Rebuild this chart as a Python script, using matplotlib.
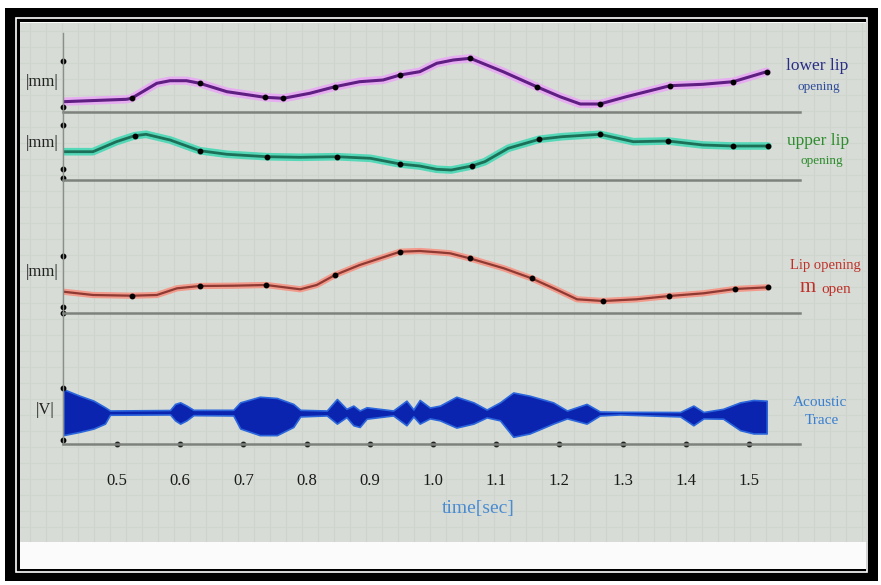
import matplotlib.pyplot as plt
from matplotlib.patches import Rectangle

# ---- data (time in s, heights in mm-like units) ----
lower_t = [0.415, 0.515, 0.523, 0.563, 0.584, 0.610, 0.631, 0.674, 0.734, 0.763,
           0.805, 0.845, 0.884, 0.921, 0.948, 0.979, 1.006, 1.032, 1.059, 1.111,
           1.164, 1.201, 1.233, 1.264, 1.306, 1.375, 1.427, 1.475, 1.528]
lower_v = [1.03, 1.27, 1.37, 2.87, 3.13, 3.13, 2.87, 2.03, 1.47, 1.37,
           1.87, 2.53, 3.03, 3.20, 3.70, 4.03, 4.87, 5.20, 5.37, 4.03,
           2.53, 1.53, 0.80, 0.80, 1.53, 2.63, 2.77, 3.03, 4.03]
lower_dots = [2, 6, 8, 9, 11, 14, 18, 20, 23, 25, 27, 28]

upper_t = [0.415, 0.462, 0.499, 0.528, 0.546, 0.584, 0.631, 0.674, 0.737, 0.790,
           0.848, 0.901, 0.948, 0.979, 1.006, 1.029, 1.061, 1.082, 1.119, 1.168,
           1.204, 1.264, 1.317, 1.372, 1.427, 1.475, 1.530]
upper_v = [2.83, 2.83, 3.83, 4.43, 4.57, 4.00, 2.93, 2.57, 2.33, 2.27,
           2.33, 2.17, 1.60, 1.40, 1.07, 1.00, 1.40, 1.83, 3.17, 4.07,
           4.33, 4.57, 3.83, 3.90, 3.50, 3.40, 3.40]
upper_dots = [3, 6, 8, 10, 12, 16, 19, 21, 23, 25, 26]

open_t = [0.415, 0.462, 0.524, 0.563, 0.595, 0.631, 0.684, 0.736, 0.790, 0.816,
          0.845, 0.884, 0.948, 0.979, 1.008, 1.027, 1.058, 1.112, 1.156, 1.191,
          1.228, 1.269, 1.322, 1.374, 1.428, 1.478, 1.530]
open_v = [2.13, 1.80, 1.73, 1.80, 2.47, 2.70, 2.73, 2.80, 2.37, 2.80,
          3.80, 4.80, 6.13, 6.20, 6.07, 5.97, 5.47, 4.47, 3.47, 2.47,
          1.37, 1.20, 1.37, 1.70, 1.97, 2.40, 2.57]
open_dots = [2, 5, 7, 10, 12, 16, 18, 21, 23, 25, 26]

# acoustic trace envelope (upper / lower)
ac_t = [0.415, 0.441, 0.463, 0.481, 0.489, 0.584, 0.592, 0.600, 0.610, 0.621,
        0.684, 0.695, 0.726, 0.753, 0.779, 0.790, 0.832, 0.848, 0.863, 0.874,
        0.884, 0.895, 0.937, 0.958, 0.969, 0.979, 0.995, 1.011, 1.037, 1.064,
        1.085, 1.106, 1.127, 1.153, 1.190, 1.212, 1.243, 1.264, 1.296, 1.391,
        1.412, 1.428, 1.459, 1.486, 1.507, 1.528]
ac_top = [2.37, 1.70, 1.20, 0.53, 0.20, 0.25, 0.87, 1.03, 0.70, 0.27,
          0.27, 1.03, 1.60, 1.47, 0.87, 0.27, 0.20, 1.37, 0.37, 0.70,
          0.20, 0.53, 0.20, 1.20, 0.30, 1.27, 0.50, 0.70, 1.60, 1.03,
          0.30, 1.03, 2.03, 1.70, 1.03, 0.20, 0.87, 0.10, 0.07, 0.05,
          0.70, 0.05, 0.37, 1.03, 1.27, 1.20]
ac_bot = [-2.30, -1.97, -1.63, -1.13, -0.23, -0.20, -0.80, -1.13, -0.80, -0.27,
          -0.30, -1.63, -2.30, -2.30, -1.47, -0.40, -0.30, -1.13, -0.47, -1.30,
          -1.47, -0.63, -0.30, -1.30, -0.40, -1.13, -0.60, -0.80, -1.53, -1.13,
          -0.50, -0.80, -2.47, -2.13, -1.13, -0.60, -1.13, -0.30, -0.20, -0.40,
          -1.30, -0.60, -0.63, -1.80, -2.13, -2.13]

tick_vals = [0.5, 0.6, 0.7, 0.8, 0.9, 1.0, 1.1, 1.2, 1.3, 1.4, 1.5]
axis_dots = [[5.1, 0.5], [5.5, 1.1, 0.2], [5.7, 0.6, 0.05], [2.5, -2.8]]

W, H = 881, 585
fig = plt.figure(figsize=(W / 100, H / 100), dpi=100, facecolor='white')


def box(x0, y0, x1, y1):
    # pixel box (top-left origin) -> figure rect
    return [x0 / W, 1 - y1 / H, (x1 - x0) / W, (y1 - y0) / H]


def px(x, y):
    return x / W, 1 - y / H


# frame of the photo
fig.patches.append(Rectangle((5 / W, 1 - 581 / H), 873 / W, 573 / H,
                             transform=fig.transFigure, fc='black', ec='none', zorder=-3))
fig.patches.append(Rectangle((16 / W, 1 - 572 / H), 851 / W, 554 / H,
                             transform=fig.transFigure, fc='none', ec='white', lw=1.2, zorder=-2))
fig.patches.append(Rectangle((20 / W, 1 - 569 / H), 846 / W, 547 / H,
                             transform=fig.transFigure, fc='#fbfbfb', ec='none', zorder=-1))

# grid paper
bg = fig.add_axes(box(20, 23, 866, 542), zorder=1)
bg.set_facecolor('#d7ddd6')
bg.set_xlim(0, 846)
bg.set_ylim(519, 0)
for gx in range(10, 846, 16):
    bg.axvline(gx, color='#ccd4cb', lw=0.8)
for gy in range(8, 519, 16):
    bg.axhline(gy, color='#ced6cd', lw=0.8)
bg.set_xticks([])
bg.set_yticks([])
for s in bg.spines.values():
    s.set_visible(False)

xlim = (0.4146, 1.5807)
panels = [(33, 112, 7.9, 0.0), (112, 180, 6.8, 0.0), (180, 313, 13.3, 0.0), (313, 444, 10.1, -3.2)]
axes = []
for top, bottom, ymax, ymin in panels:
    ax = fig.add_axes(box(63, top, 800, bottom), zorder=2)
    ax.patch.set_alpha(0)
    ax.set_xlim(*xlim)
    ax.set_ylim(ymin, ymax)
    for s in ['top', 'right']:
        ax.spines[s].set_visible(False)
    ax.spines['left'].set_color('#8a8f8a')
    ax.spines['left'].set_linewidth(1)
    ax.spines['bottom'].set_color('#7d827d')
    ax.spines['bottom'].set_linewidth(1.8)
    ax.set_yticks([])
    ax.set_xticks([])
    axes.append(ax)

ax1, ax2, ax3, ax4 = axes

ax1.plot(lower_t, lower_v, color='#e6aef0', lw=6, solid_capstyle='round')
ax1.plot(lower_t, lower_v, color='#5e1e82', lw=2.2, marker='o', ms=3.2,
         mfc='black', mec='black', markevery=lower_dots)

ax2.plot(upper_t, upper_v, color='#55d8b8', lw=5.5, solid_capstyle='round')
ax2.plot(upper_t, upper_v, color='#1c7058', lw=2.0, marker='o', ms=3.2,
         mfc='black', mec='black', markevery=upper_dots)

ax3.plot(open_t, open_v, color='#f29a8c', lw=4.5, solid_capstyle='round')
ax3.plot(open_t, open_v, color='#8e3a32', lw=1.6, marker='o', ms=3.2,
         mfc='black', mec='black', markevery=open_dots)

ax4.fill_between(ac_t, ac_bot, ac_top, color='#0b24b0', ec='#2b66dc', lw=1.2)
ax4.plot(tick_vals, [-3.2] * len(tick_vals), 'o', color='#222222', ms=3.2, clip_on=False)
ax4.set_xticks(tick_vals)
ax4.set_xticklabels([f'{v:.1f}' for v in tick_vals], family='Liberation Serif',
                    fontsize=12, color='#1a1a1a')
ax4.tick_params(axis='x', length=0, pad=21)

for ax, dots in zip(axes, axis_dots):
    ax.plot([xlim[0]] * len(dots), dots, 'o', color='black', ms=3.2, clip_on=False)

serif = 'Liberation Serif'
for y in (82, 143, 272):
    fig.text(*px(42, y), '|mm|', family=serif, fontsize=12, ha='center', va='center', color='#222222')
fig.text(*px(45, 410), '|V|', family=serif, fontsize=12, ha='center', va='center', color='#222222')

fig.text(*px(817, 66), 'lower lip', family=serif, fontsize=12.5, ha='center', va='center', color='#2a2d86')
fig.text(*px(819, 87), 'opening', family=serif, fontsize=9.5, ha='center', va='center', color='#2f4a9a')
fig.text(*px(818, 141), 'upper lip', family=serif, fontsize=12.5, ha='center', va='center', color='#2e8c2e')
fig.text(*px(822, 161), 'opening', family=serif, fontsize=9.5, ha='center', va='center', color='#2e8c2e')
fig.text(*px(825, 266), 'Lip opening', family=serif, fontsize=10.5, ha='center', va='center', color='#c0302a')
fig.text(*px(808, 287), 'm', family=serif, fontsize=15, ha='center', va='center', color='#c0302a')
fig.text(*px(836, 289), 'open', family=serif, fontsize=11, ha='center', va='center', color='#c0302a')
fig.text(*px(820, 402), 'Acoustic', family=serif, fontsize=11, ha='center', va='center', color='#3a7ed0')
fig.text(*px(822, 421), 'Trace', family=serif, fontsize=11, ha='center', va='center', color='#3a7ed0')

fig.text(*px(478, 508), 'time[sec]', family=serif, fontsize=14, ha='center', va='center', color='#4a8bd2')

fig.savefig('out.png', dpi=100, facecolor='white')
